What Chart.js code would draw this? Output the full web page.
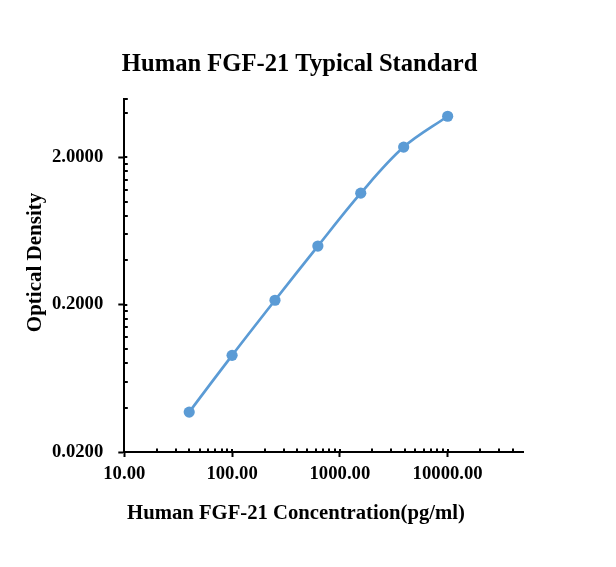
<!DOCTYPE html>
<html>
<head>
<meta charset="utf-8">
<script src="https://cdn.jsdelivr.net/npm/chart.js@4.4.1/dist/chart.umd.min.js"></script>
<style>
  html, body { margin: 0; padding: 0; background: #ffffff; }
  #wrap { width: 616px; height: 567px; position: relative; }
</style>
</head>
<body>
<div id="wrap"><canvas id="c" width="616" height="567"></canvas></div>
<script>
// ---- data ----
const concentrations = [40, 100, 250, 625, 1562.5, 3906.25, 10000];
const opticalDensity = [0.0373, 0.0905, 0.214, 0.499, 1.14, 2.34, 3.79];
const xMajorTicks = [10, 100, 1000, 10000];
const xMinorTicks = [20, 30, 40, 50, 60, 70, 80, 90,
                     200, 300, 400, 500, 600, 700, 800, 900,
                     2000, 3000, 4000, 5000, 6000, 7000, 8000, 9000,
                     20000, 30000, 40000];
const yMajorTicks = [0.02, 0.2, 2];
const yMinorTicks = [0.04, 0.06, 0.08, 0.1, 0.12, 0.14, 0.16, 0.18,
                     0.4, 0.6, 0.8, 1.0, 1.2, 1.4, 1.6, 1.8, 4, 5];
const chartTitle = 'Human FGF-21 Typical Standard';
const xTitle = 'Human FGF-21 Concentration(pg/ml)';
const yTitle = 'Optical Density';

// ---- styling ----
const SERIF = "'Times New Roman', 'Liberation Serif', serif";
const BLUE = '#5B9BD5';

function isMajor(list, v) {
  return list.some(m => Math.abs(Math.log10(m) - Math.log10(v)) < 1e-9);
}
function setTicks(majors, minors) {
  return function (scale) {
    const all = majors.concat(minors).sort((a, b) => a - b);
    scale.ticks = all.map(v => ({ value: v, major: isMajor(majors, v) }));
  };
}

const innerTicks = {
  id: 'innerTicks',
  afterDraw(chart) {
    const ctx = chart.ctx;
    const xs = chart.scales.x, ys = chart.scales.y;
    const area = chart.chartArea;
    ctx.save();
    ctx.strokeStyle = '#000';
    ctx.lineWidth = 2;
    ctx.beginPath();
    xs.ticks.forEach(t => {
      const px = Math.round(xs.getPixelForValue(t.value));
      const len = isMajor(xMajorTicks, t.value) ? 3 : 3.5;
      ctx.moveTo(px, area.bottom);
      ctx.lineTo(px, area.bottom - len);
    });
    ys.ticks.forEach(t => {
      const py = Math.round(ys.getPixelForValue(t.value));
      const len = isMajor(yMajorTicks, t.value) ? 3 : 3.5;
      ctx.moveTo(area.left, py);
      ctx.lineTo(area.left + len, py);
    });
    ctx.stroke();
    ctx.restore();
  }
};

const titles = {
  id: 'titles',
  afterDraw(chart) {
    const ctx = chart.ctx;
    ctx.save();
    ctx.fillStyle = '#000';
    ctx.textAlign = 'center';
    ctx.textBaseline = 'alphabetic';
    ctx.font = 'bold 24.6px ' + SERIF;
    ctx.fillText(chartTitle, 299.6, 70.7);
    ctx.font = 'bold 20.7px ' + SERIF;
    ctx.fillText(xTitle, 296, 519.3);
    ctx.translate(40.8, 262.5);
    ctx.rotate(-Math.PI / 2);
    ctx.font = 'bold 21px ' + SERIF;
    ctx.fillText(yTitle, 0, 0);
    ctx.restore();
  }
};

new Chart(document.getElementById('c'), {
  type: 'scatter',
  data: {
    datasets: [{
      data: concentrations.map((x, i) => ({ x: x, y: opticalDensity[i] })),
      showLine: true,
      tension: 0.35,
      borderColor: BLUE,
      borderWidth: 2.7,
      pointRadius: 5.6,
      pointHoverRadius: 5.6,
      pointBackgroundColor: BLUE,
      pointBorderColor: BLUE,
      pointBorderWidth: 0
    }]
  },
  options: {
    responsive: false,
    animation: false,
    devicePixelRatio: 1,
    layout: { padding: { left: 0, right: 93, top: 98.5, bottom: 0 } },
    plugins: {
      legend: { display: false },
      title: { display: false },
      tooltip: { enabled: false }
    },
    scales: {
      x: {
        type: 'logarithmic',
        min: 10,
        max: 50000,
        afterBuildTicks: setTicks(xMajorTicks, xMinorTicks),
        afterFit: s => { s.height = 115; },
        border: { display: true, color: '#000', width: 2 },
        grid: {
          display: true,
          drawOnChartArea: false,
          drawTicks: true,
          tickLength: 5,
          tickWidth: 2,
          tickColor: c => (c.tick && isMajor(xMajorTicks, c.tick.value)) ? '#000' : 'rgba(0,0,0,0)'
        },
        ticks: {
          autoSkip: false,
          maxRotation: 0,
          minRotation: 0,
          padding: 6,
          color: '#000',
          font: { family: SERIF, size: 18.7, weight: 'bold' },
          callback: (v) => isMajor(xMajorTicks, v) ? Number(v).toFixed(2) : ''
        },
        title: { display: false }
      },
      y: {
        type: 'logarithmic',
        min: 0.02,
        max: 5,
        afterBuildTicks: setTicks(yMajorTicks, yMinorTicks),
        afterFit: s => { s.width = 124.3; },
        border: { display: true, color: '#000', width: 2 },
        grid: {
          display: true,
          drawOnChartArea: false,
          drawTicks: true,
          tickLength: 6,
          tickWidth: 2,
          tickColor: c => (c.tick && isMajor(yMajorTicks, c.tick.value)) ? '#000' : 'rgba(0,0,0,0)'
        },
        ticks: {
          autoSkip: false,
          padding: 15,
          color: '#000',
          font: { family: SERIF, size: 18.7, weight: 'bold' },
          callback: (v) => isMajor(yMajorTicks, v) ? Number(v).toFixed(4) : ''
        },
        title: { display: false }
      }
    }
  },
  plugins: [innerTicks, titles]
});
</script>
</body>
</html>
